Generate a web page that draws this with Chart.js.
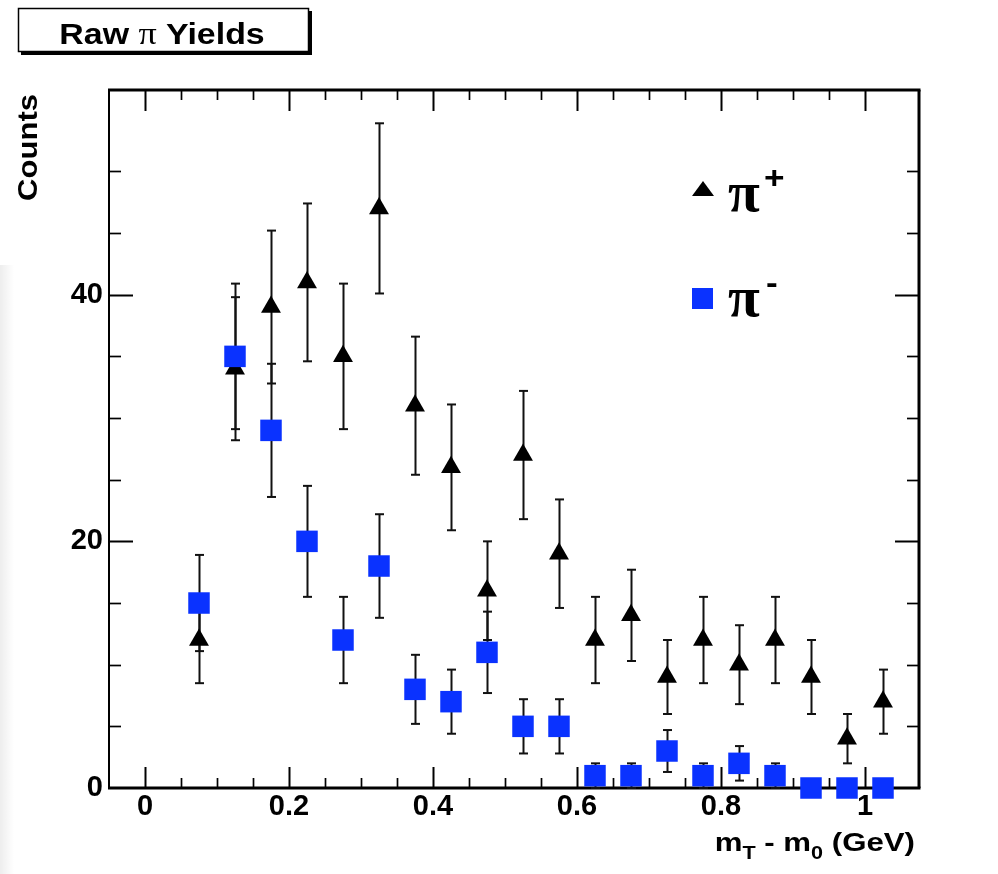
<!DOCTYPE html>
<html>
<head>
<meta charset="utf-8">
<title>Raw pi Yields</title>
<script src="https://cdn.jsdelivr.net/npm/chart.js@4.4.0/dist/chart.umd.min.js"></script>
<style>
    html, body { margin: 0; padding: 0; background: #fff; }
    #wrap { width: 998px; height: 874px; position: relative; }
</style>
</head>
<body>
<div id="wrap"><canvas id="yieldChart" width="998" height="874"></canvas></div>
<script>
// bin centres of m_T - m_0 (GeV)
const binCenters = [0.075, 0.125, 0.175, 0.225, 0.275, 0.325, 0.375, 0.425, 0.475, 0.525,
                    0.575, 0.625, 0.675, 0.725, 0.775, 0.825, 0.875, 0.925, 0.975, 1.025];

// pi+ counts and their error bars
const piPlusCounts = [12, 34, 39, 41, 35, 47, 31, 26, 16, 27, 19, 12, 14, 9, 12, 10, 12, 9, 4, 7];
const piPlusErrors = [3.5, 5.8, 6.2, 6.4, 5.9, 6.9, 5.6, 5.1, 4.0, 5.2, 4.4, 3.5, 3.7, 3.0, 3.5, 3.2, 3.5, 3.0, 2.0, 2.6];

// pi- counts and their error bars
const piMinusCounts = [15, 35, 29, 20, 12, 18, 8, 7, 11, 5, 5, 1, 1, 3, 1, 2, 1, 0, 0, 0];
const piMinusErrors = [3.9, 5.9, 5.4, 4.5, 3.5, 4.2, 2.8, 2.6, 3.3, 2.2, 2.2, 1.0, 1.0, 1.7, 1.0, 1.4, 1.0, 0, 0, 0];

// axis labels
const xTickLabels = ['0', '0.2', '0.4', '0.6', '0.8', '1'];
const yTickLabels = ['0', '20', '40'];

const BLUE = '#0a32ff';
const SANS = '"Liberation Sans", Arial, Helvetica, sans-serif';
const SERIF = '"Liberation Serif", "Times New Roman", serif';

const near = (a, b) => Math.abs(a - b) < 1e-6;
const onStep = (v, step) => near(v / step, Math.round(v / step));

const labelFor = (labels) => (value) => {
    const hit = labels.find(l => near(Number(l), value));
    return hit === undefined ? '' : hit;
};

// draw a list of text runs, stretched horizontally like the ROOT fonts
function drawRuns(ctx, runs, x, y, sx, align) {
    ctx.save();
    ctx.textBaseline = 'alphabetic';
    ctx.textAlign = 'left';
    let total = 0;
    runs.forEach(r => { ctx.font = r.font; r.w = ctx.measureText(r.text).width; total += r.w; });
    let cx = align === 'right' ? x - total * sx : align === 'center' ? x - total * sx / 2 : x;
    ctx.translate(cx, y);
    ctx.scale(sx, 1);
    let off = 0;
    runs.forEach(r => {
        ctx.font = r.font;
        ctx.fillStyle = '#000';
        ctx.fillText(r.text, off, r.dy || 0);
        off += r.w;
    });
    ctx.restore();
}

const rootLook = {
    id: 'rootLook',
    beforeDraw(chart) {
        const ctx = chart.ctx;
        ctx.save();
        ctx.fillStyle = '#fff';
        ctx.fillRect(0, 0, chart.width, chart.height);
        // faint grey edge on the left of the scan
        const g = ctx.createLinearGradient(0, 0, 14, 0);
        g.addColorStop(0, 'rgba(0,0,0,0.07)');
        g.addColorStop(1, 'rgba(0,0,0,0)');
        ctx.fillStyle = g;
        ctx.fillRect(0, 265, 14, chart.height - 265);
        ctx.restore();
    },
    beforeDatasetsDraw(chart) {
        const ctx = chart.ctx;
        const xs = chart.scales.x, ys = chart.scales.y;
        const { left, right, top, bottom } = chart.chartArea;
        ctx.save();
        ctx.strokeStyle = '#000';
        ctx.lineCap = 'butt';

        const line = (x1, y1, x2, y2) => { ctx.beginPath(); ctx.moveTo(x1, y1); ctx.lineTo(x2, y2); ctx.stroke(); };

        // inward ticks on all four sides
        xs.ticks.forEach(t => {
            const v = t.value;
            if (v <= xs.min + 1e-9 || v >= xs.max - 1e-9 || !onStep(v, 0.05)) return;
            const major = onStep(v, 0.2);
            const len = major ? 21 : 10;
            const px = Math.round(xs.getPixelForValue(v)) + 0.5;
            ctx.lineWidth = major ? 2 : 1.7;
            line(px, bottom, px, bottom - len);
            line(px, top, px, top + len);
        });
        ys.ticks.forEach(t => {
            const v = t.value;
            if (v <= ys.min + 1e-9 || v >= ys.max - 1e-9 || !onStep(v, 5)) return;
            const major = onStep(v, 20);
            const len = major ? 24 : 12;
            const py = Math.round(ys.getPixelForValue(v)) + 0.5;
            ctx.lineWidth = major ? 2 : 1.7;
            line(left, py, left + len, py);
            line(right, py, right - len, py);
        });

        // frame
        ctx.lineWidth = 3;
        line(left - 1, bottom, right + 1.5, bottom);
        line(left - 1, top, right + 1.5, top);
        line(right, top, right, bottom);
        ctx.lineWidth = 2;
        line(left, top, left, bottom + 1);

        // error bars
        ctx.strokeStyle = '#111';
        const errs = [piPlusErrors, piMinusErrors];
        const vals = [piPlusCounts, piMinusCounts];
        chart.data.datasets.forEach((ds, i) => {
            const meta = chart.getDatasetMeta(i);
            meta.data.forEach((pt, j) => {
                const e = errs[i][j];
                if (!e) return;
                const yTop = ys.getPixelForValue(vals[i][j] + e);
                const yBot = ys.getPixelForValue(Math.max(0, vals[i][j] - e));
                const px = Math.round(pt.x) + 0.5;
                ctx.lineWidth = 2;
                line(px, yTop, px, yBot);
                line(px - 4.5, yTop, px + 4.5, yTop);
                line(px - 4.5, yBot, px + 4.5, yBot);
            });
        });
        ctx.restore();
    },
    afterDraw(chart) {
        const ctx = chart.ctx;
        ctx.save();

        // title box with drop shadow
        ctx.fillStyle = '#000';
        ctx.fillRect(21, 11, 291, 44);
        ctx.fillStyle = '#fff';
        ctx.fillRect(18, 8, 291, 44);
        ctx.strokeStyle = '#000';
        ctx.lineWidth = 1.5;
        ctx.strokeRect(18.5, 8.5, 290, 43);
        drawRuns(ctx, [
            { text: 'Raw ', font: 'bold 30px ' + SANS },
            { text: 'π', font: '32px ' + SERIF },
            { text: ' Yields', font: 'bold 30px ' + SANS }
        ], 162, 44, 1.13, 'center');

        // x axis title with subscripts
        drawRuns(ctx, [
            { text: 'm', font: 'bold 26px ' + SANS },
            { text: 'T', font: 'bold 18px ' + SANS, dy: 8 },
            { text: ' - m', font: 'bold 26px ' + SANS },
            { text: '0', font: 'bold 18px ' + SANS, dy: 8 },
            { text: ' (GeV)', font: 'bold 26px ' + SANS }
        ], 915, 851, 1.2, 'right');

        // y axis title
        ctx.save();
        ctx.translate(37, 94);
        ctx.rotate(-Math.PI / 2);
        drawRuns(ctx, [{ text: 'Counts', font: 'bold 27px ' + SANS }], 0, 0, 1.15, 'right');
        ctx.restore();

        // legend
        ctx.fillStyle = '#000';
        ctx.beginPath();
        ctx.moveTo(703, 181);
        ctx.lineTo(714, 196);
        ctx.lineTo(692, 196);
        ctx.closePath();
        ctx.fill();
        ctx.fillStyle = BLUE;
        ctx.fillRect(692, 288, 21, 21);

        drawRuns(ctx, [{ text: 'π', font: 'bold 58px ' + SERIF }], 728, 211, 1.0, 'left');
        drawRuns(ctx, [{ text: '+', font: 'bold 32px ' + SANS }], 764, 188, 1.1, 'left');
        drawRuns(ctx, [{ text: 'π', font: 'bold 58px ' + SERIF }], 728, 316, 1.0, 'left');
        drawRuns(ctx, [{ text: '-', font: 'bold 32px ' + SANS }], 766, 293, 1.1, 'left');

        ctx.restore();
    }
};

const ctx = document.getElementById('yieldChart').getContext('2d');
const yieldChart = new Chart(ctx, {
    type: 'scatter',
    data: {
        datasets: [
            {
                label: 'π+',
                data: binCenters.map((x, i) => ({ x: x, y: piPlusCounts[i] })),
                pointStyle: 'triangle',
                pointRadius: 11.5,
                pointHoverRadius: 11.5,
                backgroundColor: '#000',
                borderColor: '#000',
                borderWidth: 0,
                clip: false,
                order: 1
            },
            {
                label: 'π-',
                data: binCenters.map((x, i) => ({ x: x, y: piMinusCounts[i] })),
                pointStyle: 'rect',
                pointRadius: 15.2,
                pointHoverRadius: 15.2,
                backgroundColor: BLUE,
                borderColor: BLUE,
                borderWidth: 0,
                clip: false,
                order: 0
            }
        ]
    },
    options: {
        responsive: false,
        animation: false,
        events: [],
        layout: { padding: { left: 0, top: 90, right: 79, bottom: 0 } },
        plugins: {
            legend: { display: false },
            tooltip: { enabled: false },
            title: { display: false }
        },
        scales: {
            x: {
                type: 'linear',
                min: -0.05,
                max: 1.075,
                grid: { display: false, drawTicks: false },
                border: { display: false },
                ticks: {
                    stepSize: 0.05,
                    autoSkip: false,
                    maxRotation: 0,
                    padding: 2,
                    color: '#000',
                    font: { family: SANS, size: 29, weight: 'bold' },
                    callback: labelFor(xTickLabels)
                },
                afterFit: (scale) => { scale.height = 86; }
            },
            y: {
                type: 'linear',
                min: 0,
                max: 56.6,
                grid: { display: false, drawTicks: false },
                border: { display: false },
                ticks: {
                    stepSize: 5,
                    autoSkip: false,
                    padding: 6,
                    color: '#000',
                    font: { family: SANS, size: 29, weight: 'bold' },
                    callback: labelFor(yTickLabels)
                },
                afterFit: (scale) => { scale.width = 109; }
            }
        }
    },
    plugins: [rootLook]
});
</script>
</body>
</html>
